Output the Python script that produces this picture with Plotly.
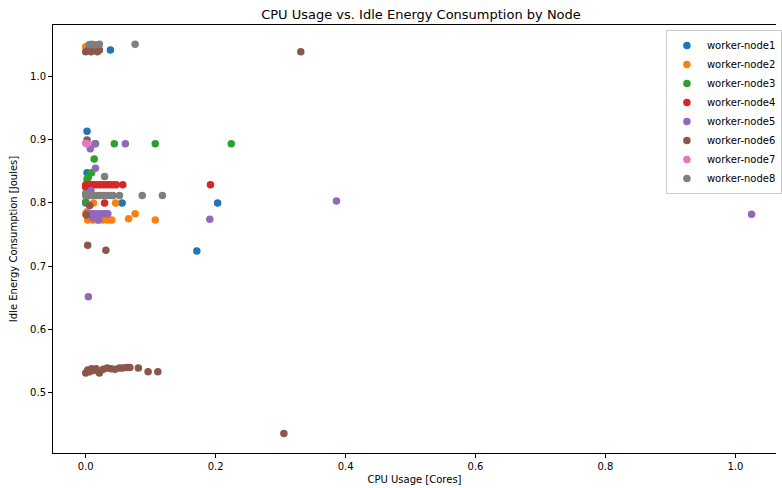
import plotly.graph_objects as go

nodes = ["worker-node1", "worker-node2", "worker-node3", "worker-node4",
         "worker-node5", "worker-node6", "worker-node7", "worker-node8"]
colors = ["#1f77b4", "#ff7f0e", "#2ca02c", "#d62728",
          "#9467bd", "#8c564b", "#e377c2", "#7f7f7f"]

node1_x = [0.038, 0.002, 0.002, 0.0, 0.056, 0.203, 0.171, 0.029]
node1_y = [1.043, 0.914, 0.848, 0.800, 0.800, 0.800, 0.724, 0.783]

node2_x = [0.0, 0.002, 0.046, 0.076, 0.066, 0.107, 0.040, 0.034, 0.026, 0.018,
           0.011, 0.003, 0.0, 0.012, 0.002]
node2_y = [1.048, 1.042, 0.800, 0.783, 0.775, 0.773, 0.773, 0.773, 0.773, 0.773,
           0.773, 0.773, 0.783, 0.800, 0.786]

node3_x = [0.224, 0.107, 0.044, 0.015, 0.013, 0.009, 0.002, 0.0, 0.004]
node3_y = [0.894, 0.894, 0.894, 0.894, 0.870, 0.848, 0.838, 0.802, 0.841]

node4_x = [0.0, 0.003, 0.008, 0.012, 0.017, 0.022, 0.027, 0.032, 0.037, 0.042,
           0.047, 0.057, 0.192, 0.029, 0.0, 0.02]
node4_y = [0.829, 0.829, 0.829, 0.829, 0.829, 0.829, 0.829, 0.829, 0.829, 0.829,
           0.829, 0.829, 0.829, 0.800, 0.825, 1.043]

node5_x = [1.025, 0.386, 0.191, 0.061, 0.014, 0.007, 0.015, 0.004, 0.008,
           0.002, 0.009, 0.015, 0.021, 0.027, 0.034, 0.020, 0.011]
node5_y = [0.782, 0.803, 0.774, 0.894, 0.894, 0.886, 0.855, 0.651, 0.820,
           0.783, 0.783, 0.783, 0.783, 0.783, 0.783, 0.773, 0.776]

node6_x = [0.0, 0.004, 0.008, 0.013, 0.018, 0.021, 0.331,
           0.002, 0.006, 0.001, 0.003, 0.031, 0.305,
           0.0, 0.003, 0.006, 0.009, 0.012, 0.016, 0.021, 0.027, 0.033,
           0.039, 0.045, 0.052, 0.057, 0.063, 0.068, 0.081, 0.096, 0.111]
node6_y = [1.040, 1.043, 1.040, 1.042, 1.040, 1.043, 1.040,
           0.900, 0.796, 0.781, 0.733, 0.725, 0.434,
           0.530, 0.535, 0.532, 0.537, 0.534, 0.537, 0.530, 0.536, 0.538,
           0.537, 0.536, 0.538, 0.538, 0.539, 0.539, 0.538, 0.532, 0.532]

node7_x = [0.002, 0.0]
node7_y = [0.894, 0.895]

node8_x = [0.005, 0.009, 0.014, 0.021, 0.076,
           0.0, 0.004, 0.008, 0.012, 0.017, 0.022, 0.027, 0.032, 0.037, 0.042,
           0.052, 0.087, 0.118, 0.029, 0.0]
node8_y = [1.051, 1.052, 1.051, 1.052, 1.052,
           0.812, 0.812, 0.812, 0.812, 0.812, 0.812, 0.812, 0.812, 0.812, 0.812,
           0.812, 0.812, 0.812, 0.842, 0.815]

xs = [node1_x, node2_x, node3_x, node4_x, node5_x, node6_x, node7_x, node8_x]
ys = [node1_y, node2_y, node3_y, node4_y, node5_y, node6_y, node7_y, node8_y]

fig = go.Figure()
for name, c, x, y in zip(nodes, colors, xs, ys):
    fig.add_trace(go.Scatter(x=x, y=y, mode="markers", name=name,
                             marker=dict(color=c, size=7.5, line=dict(width=0))))

font = "DejaVu Sans"
fig.update_layout(
    width=782, height=488,
    margin=dict(l=53, r=0, t=25, b=35),
    paper_bgcolor="white", plot_bgcolor="white",
    font=dict(family=font, size=10, color="black"),
    title=dict(text="CPU Usage vs. Idle Energy Consumption by Node",
               x=421 / 782, xref="container", xanchor="center",
               y=1 - 14 / 488, yref="container", yanchor="middle",
               font=dict(family=font, size=13, color="black")),
    xaxis=dict(range=[-0.0504, 1.0626], showgrid=False, zeroline=False,
               showline=True, linecolor="black", linewidth=1, mirror=True,
               ticks="outside", ticklen=4, tickcolor="black",
               tickvals=[0, 0.2, 0.4, 0.6, 0.8, 1.0],
               ticktext=["0.0", "0.2", "0.4", "0.6", "0.8", "1.0"],
               title=dict(text="CPU Usage [Cores]", standoff=4,
                          font=dict(family=font, size=10))),
    yaxis=dict(range=[0.4032, 1.0825], showgrid=False, zeroline=False,
               showline=True, linecolor="black", linewidth=1, mirror=False,
               ticks="outside", ticklen=4, tickcolor="black",
               tickvals=[0.5, 0.6, 0.7, 0.8, 0.9, 1.0],
               ticktext=["0.5", "0.6", "0.7", "0.8", "0.9", "1.0"],
               title=dict(text="Idle Energy Consumption [Joules]", standoff=10,
                          font=dict(family=font, size=10))),
    legend=dict(x=(671 - 53) / 729, xanchor="left", y=1 - 5 / 428, yanchor="top",
                bgcolor="rgba(255,255,255,0.8)", bordercolor="#cccccc",
                borderwidth=1, font=dict(family=font, size=10),
                tracegroupgap=0),
    showlegend=True,
)

fig.write_html("out.html")
